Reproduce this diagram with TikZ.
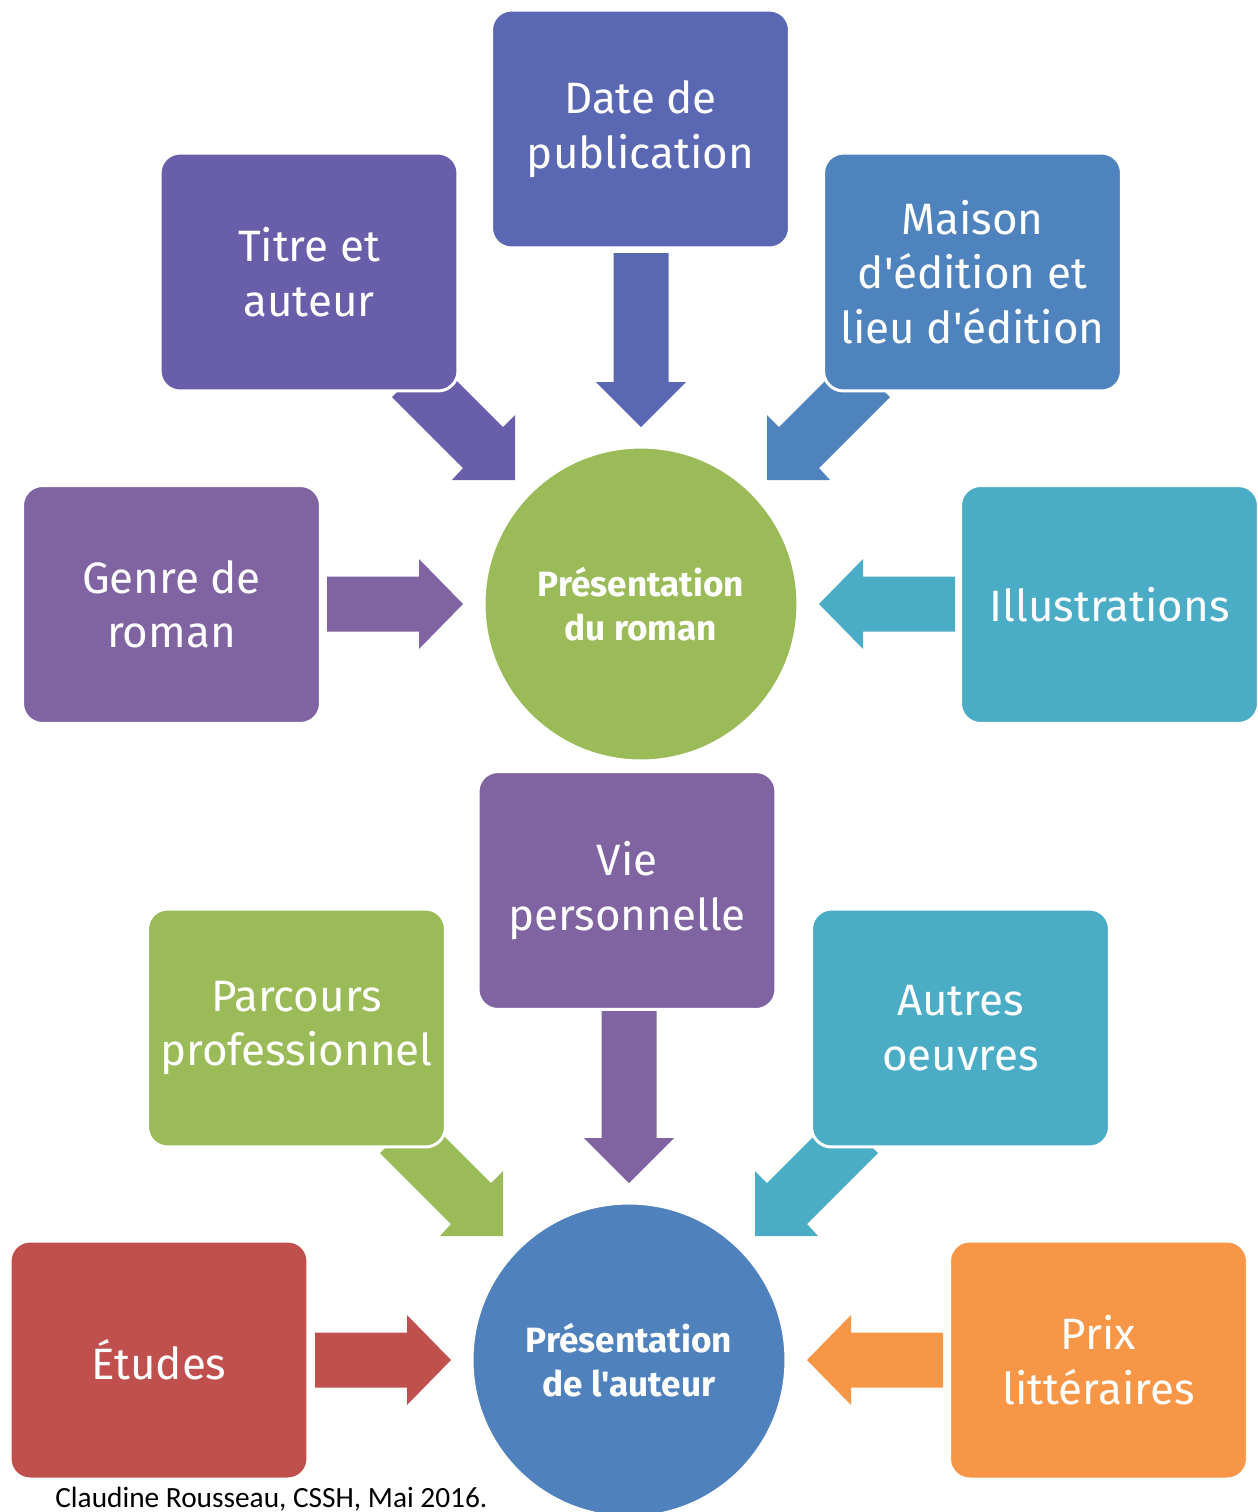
\documentclass[tikz,border=0pt]{standalone}
\usepackage{fontspec}
\newfontfamily\boxfont{Fira Sans}
\newfontfamily\notefont{Carlito}

\definecolor{dateblue}{HTML}{5A67B2}
\definecolor{titreviolet}{HTML}{685EA9}
\definecolor{maisonblue}{HTML}{4F83BD}
\definecolor{mauve}{HTML}{8064A2}
\definecolor{turquoise}{HTML}{4BACC6}
\definecolor{leaf}{HTML}{9BBB59}
\definecolor{steel}{HTML}{4F81BD}
\definecolor{brick}{HTML}{C0504D}
\definecolor{apricot}{HTML}{F79646}

\tikzset{
  box/.style={rectangle, rounded corners=0.4cm, draw=white, line width=1.7pt,
    minimum width=5.96cm, minimum height=4.76cm, text=white, align=center,
    font=\boxfont\fontsize{25}{31}\selectfont},
  hub/.style={circle, draw=white, line width=1.7pt, minimum size=6.28cm,
    text=white, align=center, font=\boxfont\bfseries\fontsize{20}{25}\selectfont},
}

\begin{document}
\begin{tikzpicture}[x=0.02cm, y=-0.02cm]
    \useasboundingbox (0,0) rectangle (1258,1512);
    \clip (0,0) rectangle (1258,1512);

    % draw hubs
    \node [hub, fill=leaf] (roman) at (641,604) {Présentation\\du roman};
    \node [hub, fill=steel] (auteur) at (629,1360) {Présentation\\de l'auteur};

    % draw arrows
    \foreach \h/\cn/\cw/\ce/\cl/\cr in {roman/dateblue/titreviolet/maisonblue/mauve/turquoise,
        auteur/mauve/leaf/turquoise/brick/apricot}
    {
        \begin{scope}[shift={(\h.center)}]
            \fill [\cn] (-27.5,-351) -- (27.5,-351) -- (27.5,-222) -- (45,-222)
                -- (0,-177) -- (-45,-222) -- (-27.5,-222) -- cycle;
            \fill [\cl] (-314,-27.5) -- (-222,-27.5) -- (-222,-45) -- (-178,0)
                -- (-222,45) -- (-222,27.5) -- (-314,27.5) -- cycle;
            \fill [\cr, xscale=-1] (-314,-27.5) -- (-222,-27.5) -- (-222,-45) -- (-178,0)
                -- (-222,45) -- (-222,27.5) -- (-314,27.5) -- cycle;
            \fill [\cw] (-249,-207) -- (-208.5,-247.5) -- (-138,-177) -- (-126,-189)
                -- (-126,-124) -- (-189,-124) -- (-178,-136) -- cycle;
            \fill [\ce, xscale=-1] (-249,-207) -- (-208.5,-247.5) -- (-138,-177) -- (-126,-189)
                -- (-126,-124) -- (-189,-124) -- (-178,-136) -- cycle;
        \end{scope}
    }

    % draw boxes
    \foreach \n/\x/\y/\c/\t in {
        date/640.5/129/dateblue/{Date de\\publication},
        titre/309/272/titreviolet/{Titre et\\auteur},
        maison/972.5/272/maisonblue/{Maison\\d'édition et\\lieu d'édition},
        genre/171.5/604.5/mauve/{Genre de\\roman},
        illus/1109.5/604.5/turquoise/{Illustrations},
        vie/627/890.5/mauve/{Vie\\personnelle},
        parcours/296.5/1028/leaf/{Parcours\\professionnel},
        autres/960.5/1028/turquoise/{Autres\\oeuvres},
        etudes/159/1360/brick/{Études},
        prix/1098.5/1360/apricot/{Prix\\littéraires}}
        \node [box, fill=\c] (\n) at (\x,\y) {\t};

    % credit line
    \node [anchor=base west, inner sep=0pt, font=\notefont\fontsize{16.7}{18}\selectfont]
        (credit) at (55,1507) {Claudine Rousseau, CSSH, Mai 2016.};

\end{tikzpicture}
\end{document}
